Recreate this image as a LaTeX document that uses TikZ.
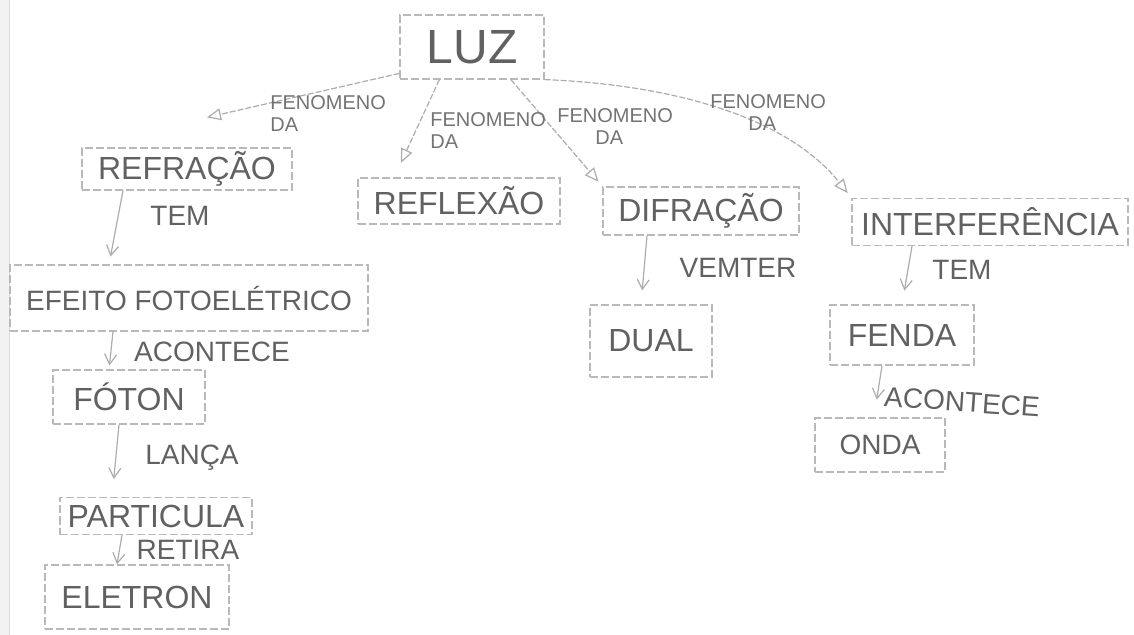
\documentclass[tikz,border=0pt]{standalone}
\usepackage{fontspec}
\setmainfont{Liberation Sans}
\usetikzlibrary{arrows.meta}
\begin{document}
\begin{tikzpicture}[x=0.5pt,y=-0.5pt,
 box/.style={draw=gray!55, dash pattern=on 4pt off 1.5pt, line width=0.6pt, text=black!62, font=\fontsize{16}{19}\selectfont, inner sep=0pt},
 lbl/.style={text=black!62, font=\fontsize{14}{16}\selectfont, inner sep=1pt},
 fen/.style={text=black!55, font=\fontsize{10}{11}\selectfont, align=left, inner sep=0pt, anchor=north west},
 link/.style={draw=gray!65, line width=0.6pt, dash pattern=on 3pt off 1pt, -{Triangle[open,length=7pt,width=6pt]}},
 down/.style={draw=gray!65, line width=0.6pt, -{Straight Barb[length=5pt,width=6pt]}}]
\useasboundingbox (0,0) rectangle (1134,635);
\fill[gray!10] (0,0) rectangle (9,635);
\draw[gray!30] (9,0) -- (9,635);

% concept boxes
\node[box, minimum width=72pt, minimum height=32pt, font=\fontsize{24}{28}\selectfont] (luz) at (472,47) {LUZ};
\node[box, minimum width=105pt, minimum height=21pt] (refr) at (187,169) {REFRAÇÃO};
\node[box, minimum width=101pt, minimum height=23pt] (refl) at (459,201) {REFLEXÃO};
\node[box, minimum width=98pt, minimum height=24pt] (dif) at (701,211) {DIFRAÇÃO};
\node[box, minimum width=138pt, minimum height=23.5pt] (intf) at (990,222) {INTERFERÊNCIA};
\node[box, minimum width=179pt, minimum height=33pt, font=\fontsize{14}{17}\selectfont] (efe) at (189,298) {EFEITO FOTOELÉTRICO};
\node[box, minimum width=76pt, minimum height=27pt] (fot) at (129,397) {FÓTON};
\node[box, minimum width=96pt, minimum height=18.5pt] (par) at (156,516) {PARTICULA};
\node[box, minimum width=92pt, minimum height=32pt] (ele) at (137,597) {ELETRON};
\node[box, minimum width=61pt, minimum height=36pt] (dual) at (651,341) {DUAL};
\node[box, minimum width=72pt, minimum height=30pt] (fend) at (902,335) {FENDA};
\node[box, minimum width=65pt, minimum height=27pt, font=\fontsize{14}{17}\selectfont] (onda) at (880,445) {ONDA};

% links from LUZ
\draw[link] (luz.200) -- ([xshift=10pt,yshift=15pt]refr.north);
\draw[link, shorten >=8pt] (luz.225) -- (refl.160);
\draw[link, shorten >=3pt] (luz.320) -- (dif.north west);
\draw[link, shorten >=3pt] (luz.south east) .. controls (680,85) and (790,120) .. (intf.north west);

\node[fen] (f1) at (270,95) {FENOMENO\\DA};
\node[fen] (f2) at (430,112) {FENOMENO\\DA};
\node[fen] (f3) at (557,108) {FENOMENO\\\hspace{1.9em}DA};
\node[fen] (f4) at (710,94) {FENOMENO\\\hspace{1.9em}DA};

% downward links
\draw[down, shorten >=4pt] ([xshift=-32pt]refr.south) -- ([xshift=-40pt]efe.north);
\draw[down, shorten >=2pt] ([xshift=-38pt]efe.south) -- ([xshift=-10pt]fot.north);
\draw[down, shorten >=9pt] ([xshift=-5pt]fot.south) -- ([xshift=-22pt]par.north);
\draw[down] ([xshift=-17pt]par.south) -- ([xshift=-10pt]ele.north);
\draw[down, shorten >=7pt] ([xshift=-27pt]dif.south) -- ([xshift=-5pt]dual.north);
\draw[down, shorten >=7pt] ([xshift=-39pt]intf.south) -- (fend.north);
\draw[down, shorten >=9pt] ([xshift=-10pt]fend.south) -- ([xshift=-3pt]onda.north);

\node[lbl] (l1) at (180,216) {TEM};
\node[lbl] (l2) at (212,352) {ACONTECE};
\node[lbl] (l3) at (192,458) {LANÇA};
\node[lbl] (l4) at (188,550) {RETIRA};
\node[lbl] (l5) at (738,268) {VEMTER};
\node[lbl] (l6) at (962,270) {TEM};
\node[lbl, rotate=-4] (l7) at (962,402) {ACONTECE};
\end{tikzpicture}
\end{document}
